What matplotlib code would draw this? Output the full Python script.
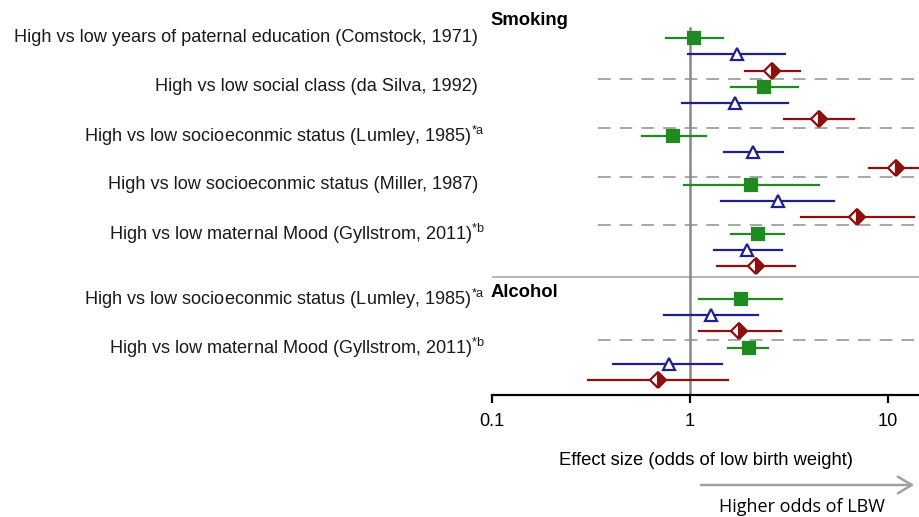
import numpy as np
import matplotlib
matplotlib.use('Agg')
import matplotlib.pyplot as plt

plt.rcParams['font.family'] = ['Liberation Sans', 'DejaVu Sans']
plt.rcParams['mathtext.fontset'] = 'custom'
plt.rcParams['mathtext.rm'] = 'Liberation Sans'
plt.rcParams['mathtext.it'] = 'Liberation Sans'

# Study labels
smoke_labels = [
    "High vs low years of paternal education (Comstock, 1971)",
    "High vs low social class (da Silva, 1992)",
    "High vs low socioeconmic status (Lumley, 1985)$^{*a}$",
    "High vs low socioeconmic status (Miller, 1987)",
    "High vs low maternal Mood (Gyllstrom, 2011)$^{*b}$",
]
alc_labels = [
    "High vs low socioeconmic status (Lumley, 1985)$^{*a}$",
    "High vs low maternal Mood (Gyllstrom, 2011)$^{*b}$",
]

# Odds ratios (point, lower, upper) per study: green, blue, red
smoke_green = [(1.05, 0.76, 1.47), (2.37, 1.61, 3.53), (0.82, 0.57, 1.20), (2.03, 0.93, 4.47), (2.20, 1.62, 3.00)]
smoke_blue = [(1.72, 0.98, 3.02), (1.69, 0.91, 3.11), (2.09, 1.48, 2.95), (2.77, 1.43, 5.35), (1.94, 1.32, 2.91)]
smoke_red = [(2.59, 1.90, 3.59), (4.47, 2.97, 6.70), (10.97, 8.06, 18.0), (6.97, 3.64, 13.6), (2.15, 1.37, 3.39)]

alc_green = [(1.80, 1.11, 2.91), (1.99, 1.56, 2.49)]
alc_blue = [(1.28, 0.74, 2.20), (0.78, 0.41, 1.45)]
alc_red = [(1.77, 1.11, 2.88), (0.69, 0.305, 1.55)]

GREEN = '#1f8a1f'
BLUE = '#1f1f8f'
RED = '#8b1010'

fig = plt.figure(figsize=(9.2, 5.17), dpi=100)
# axis spans pixel x 492..920, y 0..395
ax = fig.add_axes([492 / 920, (517 - 395) / 517, 428 / 920, 395 / 517])
ax.set_xscale('log')
ax.set_xlim(0.1, 10 ** (428 / 198 - 1))
ax.set_ylim(21.9, -2.33)


def draw(rows, data, color, marker, size, **kw):
    for r, (p, lo, hi) in zip(rows, data):
        ax.plot([lo, hi], [r, r], color=color, lw=1.6, zorder=3)
        ax.plot(p, r, marker=marker, ms=size, color=color, mec=color, mew=1.6, zorder=4, **kw)


# row positions: 3 rows per study
s_green = [3 * i for i in range(5)]
a_green = [16 + 3 * i for i in range(2)]

draw(s_green, smoke_green, GREEN, 's', 8.5)
draw([r + 1 for r in s_green], smoke_blue, BLUE, '^', 8.5, mfc='white')
draw([r + 2 for r in s_green], smoke_red, RED, 'D', 8.5, fillstyle='right', markerfacecoloralt='white')
draw(a_green, alc_green, GREEN, 's', 8.5)
draw([r + 1 for r in a_green], alc_blue, BLUE, '^', 8.5, mfc='white')
draw([r + 2 for r in a_green], alc_red, RED, 'D', 8.5, fillstyle='right', markerfacecoloralt='white')

# dashed separators between studies
for y in [2.5, 5.5, 8.5, 11.5, 18.5]:
    ax.plot([0.1 * 10 ** (106 / 198), 100], [y, y], color='#a0a0a0', lw=1.3,
            dashes=(7, 5), zorder=1)

# solid line between sections
ax.axhline(14.66, color='#b0b0b0', lw=1.3, zorder=1)

# line of no effect
ax.plot([1, 1], [-0.6, 21.9], color='#888888', lw=1.8, zorder=2)

ax.text(0.098, -1.1, 'Smoking', fontsize=13.3, fontweight='bold', va='center', ha='left')
ax.text(0.098, 15.6, 'Alcohol', fontsize=13.3, fontweight='bold', va='center', ha='left')

for r, lab in zip(s_green + a_green, smoke_labels + alc_labels):
    off = -0.016 if '$' in lab else -0.033
    ax.text(off, r, lab, transform=ax.get_yaxis_transform(), ha='right', va='center',
            fontsize=13.1, color='#1a1a1a')

for s in ['top', 'right', 'left']:
    ax.spines[s].set_visible(False)
ax.spines['bottom'].set_linewidth(1.6)
ax.set_yticks([])
ax.set_xticks([0.1, 1, 10])
ax.set_xticklabels(['0.1', '1', '10'])
ax.xaxis.set_minor_locator(matplotlib.ticker.NullLocator())
ax.tick_params(axis='x', length=6, width=1.6, labelsize=13.1, pad=7)
ax.set_xlabel('Effect size (odds of low birth weight)', fontsize=13.2, labelpad=16)

# arrow for direction
fig.patches.append(matplotlib.patches.FancyArrowPatch(
    (698 / 920, 1 - 485 / 517), (917 / 920, 1 - 485 / 517), transform=fig.transFigure,
    arrowstyle='->,head_length=10,head_width=6', color='#a0a0a0', lw=1.8))
fig.text(802 / 920, 1 - 507 / 517, 'Higher odds of LBW', fontsize=13, ha='center', va='center',
         family=['Open Sans', 'DejaVu Sans'])

fig.savefig('out.png', dpi=100)
